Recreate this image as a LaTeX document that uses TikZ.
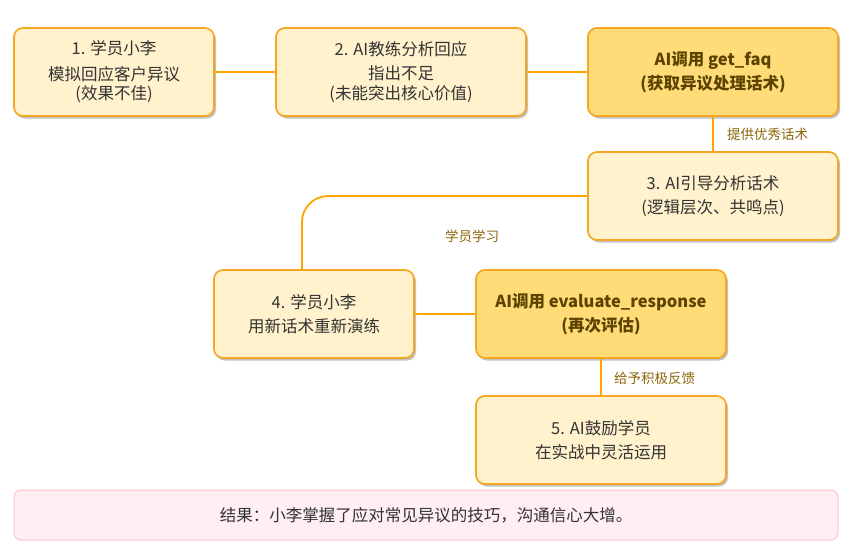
\documentclass[tikz,border=0pt]{standalone}
\usepackage{fontspec}
\setmainfont{Noto Sans CJK SC}
\usetikzlibrary{shadows}

\definecolor{boxline}{HTML}{F5A623}
\definecolor{linkline}{HTML}{FFA500}
\definecolor{paleFill}{HTML}{FFF2CC}
\definecolor{goldFill}{HTML}{FFDC78}
\definecolor{bodyText}{HTML}{333333}
\definecolor{toolText}{HTML}{5C4400}
\definecolor{tagText}{HTML}{8B6508}
\definecolor{resFill}{HTML}{FFEEF2}
\definecolor{resLine}{HTML}{FFC4CE}

\tikzset{
  basebox/.style={draw=boxline, line width=1.7pt, rounded corners=9pt,
    align=center, inner sep=0pt, font=\fontsize{16.5}{19.5}\selectfont,
    drop shadow={shadow xshift=2pt, shadow yshift=-2.5pt, opacity=0.35, fill=black!70}},
  stepbox/.style={basebox, fill=paleFill, text=bodyText},
  toolbox/.style={basebox, fill=goldFill, text=toolText, font=\fontsize{16.5}{19.5}\selectfont\bfseries},
  conn/.style={draw=linkline, line width=1.8pt},
  tag/.style={text=tagText, font=\fontsize{13.5}{16}\selectfont, inner sep=0pt},
  resultbox/.style={draw=resLine, fill=resFill, line width=1pt, rounded corners=7pt,
    text=bodyText, font=\fontsize{16.5}{19.5}\selectfont, inner sep=0pt}
}

\begin{document}
\begin{tikzpicture}[x=1pt, y=-1pt]
\useasboundingbox (0,0) rectangle (857,549);

% top row
\node[stepbox, minimum width=200pt, minimum height=88pt] (s1) at (114,72)
  {1. 学员小李\\[6pt]模拟回应客户异议\\(效果不佳)};
\node[stepbox, minimum width=250pt, minimum height=88pt] (s2) at (401,72)
  {2. AI教练分析回应\\[5pt]指出不足\\(未能突出核心价值)};
\node[toolbox, minimum width=250pt, minimum height=88pt] (faq) at (713,72)
  {AI调用 get\_faq\\[5pt](获取异议处理话术)};

% right column
\node[stepbox, minimum width=250pt, minimum height=88pt] (s3) at (713,196)
  {3. AI引导分析话术\\[5pt](逻辑层次、共鸣点)};

% middle row
\node[stepbox, minimum width=200pt, minimum height=88pt] (s4) at (314,314)
  {4. 学员小李\\[5pt]用新话术重新演练};
\node[toolbox, minimum width=250pt, minimum height=88pt] (eval) at (601,314)
  {AI调用 evaluate\_response\\[5pt](再次评估)};
\node[stepbox, minimum width=250pt, minimum height=88pt] (s5) at (601,440)
  {5. AI鼓励学员\\[5pt]在实战中灵活运用};

% outcome banner
\node[resultbox, minimum width=824pt, minimum height=50pt] (res) at (426,515)
  {结果：小李掌握了应对常见异议的技巧，沟通信心大增。};

% connectors
\draw[conn] (s1.east) -- (s2.west);
\draw[conn] (s2.east) -- (faq.west);
\draw[conn] (faq.south) -- (s3.north);
\draw[conn, rounded corners=26pt] (s3.west) -| ([xshift=-12pt]s4.north);
\draw[conn] (s4.east) -- (eval.west);
\draw[conn] (eval.south) -- (s5.north);

% connector labels
\node[tag, anchor=west] (t1) at (727,134) {提供优秀话术};
\node[tag] (t2) at (472,236) {学员学习};
\node[tag, anchor=west] (t3) at (614,378) {给予积极反馈};
\end{tikzpicture}
\end{document}
